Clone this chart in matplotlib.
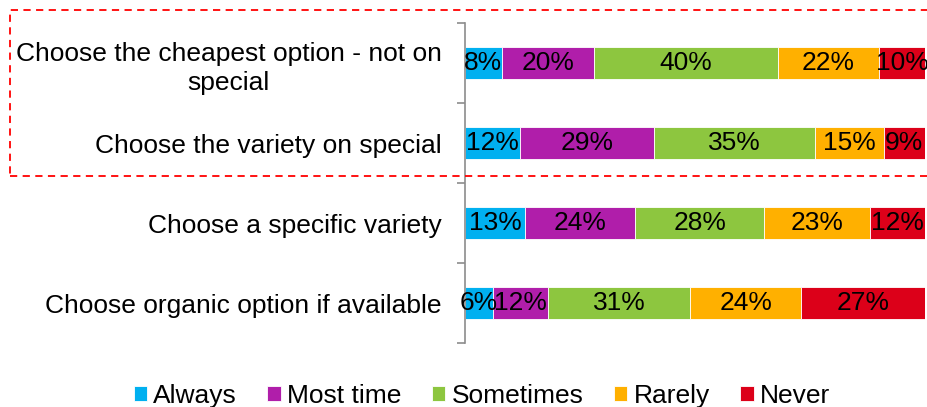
import matplotlib
matplotlib.use("Agg")
import matplotlib.pyplot as plt
from matplotlib.patches import Rectangle
import numpy as np

plt.rcParams['font.family'] = ['Liberation Sans', 'DejaVu Sans']

categories = [
    "Choose the cheapest option - not on\nspecial",
    "Choose the variety on special",
    "Choose a specific variety",
    "Choose organic option if available",
]
series_names = ["Always", "Most time", "Sometimes", "Rarely", "Never"]
always = [8, 12, 13, 6]
most_time = [20, 29, 24, 12]
sometimes = [40, 35, 28, 31]
rarely = [22, 15, 23, 24]
never = [10, 9, 12, 27]
series_values = [always, most_time, sometimes, rarely, never]
colors = ["#00B0F0", "#B01EAA", "#8DC63F", "#FFB000", "#DC0019"]

FS = 19

fig = plt.figure(figsize=(9.28, 4.07), dpi=100)
ax = fig.add_axes([465 / 928, 1 - 343 / 407, 460 / 928, 320 / 407])

y = np.arange(len(categories))
left = np.zeros(len(categories))
for name, vals, col in zip(series_names, series_values, colors):
    vals = np.array(vals, dtype=float)
    ax.barh(y, vals, left=left, height=0.4, color=col, label=name,
            edgecolor="white", linewidth=0.6)
    for yi, l, v in zip(y, left, vals):
        ax.text(l + v / 2, yi, f"{int(v)}%", ha="center", va="center",
                fontsize=FS, color="black")
    left += vals

ax.set_xlim(0, 100)
ax.set_ylim(len(categories) - 0.5, -0.5)
ax.set_yticks(y)
ax.set_yticklabels(categories, fontsize=FS, ha="right", multialignment="center",
                   linespacing=1.3)
ax.tick_params(axis="y", which="major", length=0, pad=17)
ax.set_yticks(np.arange(-0.5, len(categories), 1.0), minor=True)
ax.tick_params(axis="y", which="minor", length=6, width=1.2, color="#8C8C8C", direction="out")
ax.xaxis.set_visible(False)
for s in ["top", "right", "bottom"]:
    ax.spines[s].set_visible(False)
ax.spines["left"].set_color("#8C8C8C")
ax.spines["left"].set_linewidth(1.2)

# dashed highlight box around the first two items
box = Rectangle((10 / 928, 1 - 176 / 407), 930 / 928, 166 / 407,
                transform=fig.transFigure, fill=False, edgecolor="#FF0000",
                linestyle=(0, (4, 3)), linewidth=1.3, clip_on=False)
fig.patches.append(box)

handles, labels = ax.get_legend_handles_labels()
fig.legend(handles, labels, loc="center", bbox_to_anchor=(482 / 928, 1 - 396 / 407),
           ncol=5, frameon=False, fontsize=FS, handlelength=0.5, handleheight=0.5,
           handletextpad=0.25, columnspacing=1.15, borderaxespad=0, borderpad=0)

fig.savefig("out.png", dpi=100)
